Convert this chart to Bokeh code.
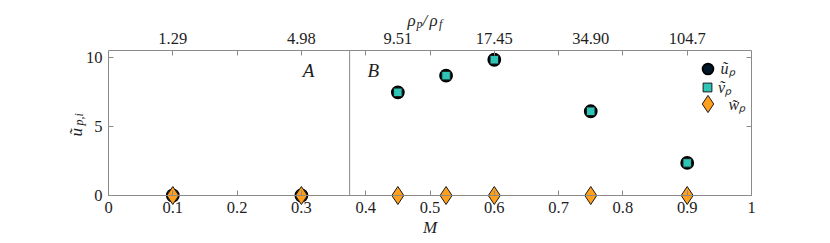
from math import pi
from bokeh.plotting import figure
from bokeh.models import (LinearAxis, FixedTicker, Range1d, Label, Legend, LegendItem)
from bokeh.embed import file_html
from bokeh.resources import INLINE

# ---- data ----
M = [0.1, 0.3, 0.45, 0.525, 0.6, 0.75, 0.9]
u_p = [0.0, 0.0, 7.47, 8.68, 9.83, 6.10, 2.36]
v_p = [0.0, 0.0, 7.47, 8.68, 9.83, 6.10, 2.36]
w_p = [0.0, 0.0, 0.0, 0.0, 0.0, 0.0, 0.0]

density_pos = [0.1, 0.3, 0.45, 0.6, 0.75, 0.9]
density_labels = ["1.29", "4.98", "9.51", "17.45", "34.90", "104.7"]
x_ticks = [0.0, 0.1, 0.2, 0.3, 0.4, 0.5, 0.6, 0.7, 0.8, 0.9, 1.0]
x_tick_labels = ["0", "0.1", "0.2", "0.3", "0.4", "0.5", "0.6", "0.7", "0.8", "0.9", "1"]
y_ticks = [0, 5, 10]
y_top = 10.5
regime_boundary = 0.375
regime_names = ["A", "B"]
series_names = ["ũₚ", "ṽₚ", "w̃ₚ"]

# ---- layout (the frame covers the whole canvas; axes sit at fixed locations) ----
W, H = 830, 243
FRAME_L, FRAME_R, FRAME_T, FRAME_B = 108, 751, 50, 195
ppx = (FRAME_R - FRAME_L) / 1.0
ppy = (FRAME_B - FRAME_T) / y_top
X0, X1 = -FRAME_L / ppx, (W - FRAME_L) / ppx
Y0, Y1 = -(H - FRAME_B) / ppy, FRAME_B / ppy

FONT = "Liberation Serif"
GRAY = "#8a8a8a"
TXT = "#1e1e1e"
C_U, C_V, C_W = "#011627", "#2EC4B6", "#FF9F1C"

p = figure(width=W, height=H, x_range=Range1d(X0, X1), y_range=Range1d(Y0, Y1),
           output_backend="svg", toolbar_location=None,
           x_axis_location=None, y_axis_location=None, min_border=0)
p.outline_line_color = None
p.xgrid.visible = False
p.ygrid.visible = False


def style_axis(ax):
    ax.axis_line_color = GRAY
    ax.axis_line_width = 1
    ax.major_tick_line_color = GRAY
    ax.minor_tick_line_color = GRAY
    ax.major_tick_in = 5
    ax.major_tick_out = 0
    ax.minor_tick_in = 5
    ax.minor_tick_out = 0
    ax.major_label_text_font = FONT
    ax.major_label_text_font_size = "16.5px"
    ax.major_label_text_color = TXT
    ax.axis_label_text_font = FONT
    ax.axis_label_text_font_style = "italic"
    ax.axis_label_text_font_size = "17px"
    ax.axis_label_text_color = TXT


bottom = LinearAxis(ticker=FixedTicker(ticks=x_ticks, minor_ticks=[]), fixed_location=0,
                    bounds=(0, 1),
                    major_label_overrides={t: l for t, l in zip(x_ticks, x_tick_labels)},
                    axis_label="M")
style_axis(bottom)
bottom.major_label_standoff = 6
bottom.axis_label_standoff = 2
p.add_layout(bottom, "below")

left = LinearAxis(ticker=FixedTicker(ticks=y_ticks, minor_ticks=[]), fixed_location=0,
                  bounds=(0, y_top))
style_axis(left)
left.major_label_standoff = 6
p.add_layout(left, "left")

right = LinearAxis(ticker=FixedTicker(ticks=y_ticks, minor_ticks=[]), fixed_location=1,
                   bounds=(0, y_top))
style_axis(right)
right.major_label_text_color = None
p.add_layout(right, "right")

top = LinearAxis(ticker=FixedTicker(ticks=density_pos, minor_ticks=x_ticks[1:-1]),
                 fixed_location=y_top, bounds=(0, 1),
                 major_label_overrides={t: l for t, l in zip(density_pos, density_labels)})
style_axis(top)
top.major_tick_line_color = None
top.major_label_standoff = 7
p.add_layout(top, "above")

# regime boundary
p.segment(x0=[regime_boundary], y0=[0], x1=[regime_boundary], y1=[y_top],
          line_color=GRAY, line_width=1)

r_u = p.scatter(M, u_p, marker="circle", size=12, fill_color=C_U, line_color="black", line_width=1.8)
r_v = p.scatter(M, v_p, marker="square", size=8.5, fill_color=C_V, line_color="#1a1a1a", line_width=1)
r_w = p.scatter(M, w_p, marker="diamond", size=18, fill_color=C_W, line_color="#1a1a1a", line_width=1)

# legend: one small legend per series so each marker gets its own size
LEG_CX = 707
for name, rend, cy, box, standoff in [(series_names[0], r_u, 68, 27, -7),
                                      (series_names[1], r_v, 86.5, 22, -3),
                                      (series_names[2], r_w, 103.5, 43, -8)]:
    lg = Legend(items=[LegendItem(label=name, renderers=[rend])],
                location=(LEG_CX - box / 2, H - (cy + box / 2)),
                border_line_color=None, background_fill_alpha=0,
                label_text_font=FONT, label_text_font_style="italic",
                label_text_font_size="16px", label_text_color=TXT,
                glyph_width=box, glyph_height=box, label_height=10, label_width=10,
                label_standoff=standoff, spacing=0, padding=0, margin=0)
    p.add_layout(lg)

# regime labels
for xr, name in zip([0.311, 0.412], regime_names):
    p.add_layout(Label(x=xr, y=9.04, text=name, text_align="center", text_baseline="middle",
                       text_font=FONT, text_font_style="italic", text_font_size="19px",
                       text_color=TXT))


def lab(x, y, t, size, angle=0.0):
    # x, y: canvas pixels measured from the left / top edge
    p.add_layout(Label(x=x, y=H - y, x_units="screen", y_units="screen", text=t, angle=angle,
                       text_align="left", text_baseline="alphabetic", text_font=FONT,
                       text_font_style="italic", text_font_size=size, text_color=TXT))


# top axis title  rho_p / rho_f
lab(407, 20, "ρ", "17px")
lab(416, 23.5, "p", "12px")
lab(422, 20, "/", "17px")
lab(429, 20, "ρ", "17px")
lab(438.5, 23.5, "f", "12px")

# y axis title  u~_{p,i}
lab(76, 136, "ũ", "17px", pi / 2)
lab(78.5, 125, "p,i", "12px", pi / 2)

open("out.html", "w").write(file_html(p, INLINE))
